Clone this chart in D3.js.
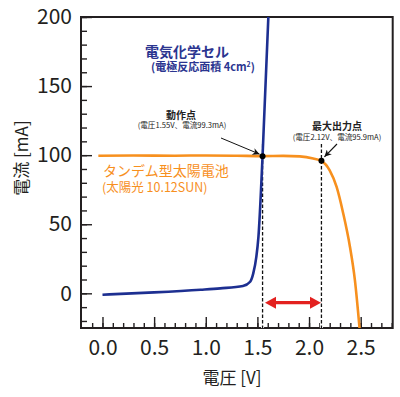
<!DOCTYPE html>
<html><head><meta charset="utf-8">
<script src="https://cdn.jsdelivr.net/npm/d3@7"></script>
<style>
html,body{margin:0;padding:0;background:#fff;}
svg text{font-family:"Noto Sans CJK JP","Noto Sans",sans-serif;}
</style></head>
<body>
<svg id="c" width="400" height="397"></svg>
<script>
// ---- data ----
const cellV = [0, 0.5, 0.95, 1.14, 1.36, 1.43, 1.46, 1.49, 1.51, 1.55, 1.606];
const cellI = [-1, 0.7, 2.6, 3.6, 5.3, 8.4, 14.4, 26.5, 40.9, 99.3, 200];
const solarV = [-0.04, 0.3, 0.7, 1.0, 1.3, 1.55, 1.75, 1.91, 2.04, 2.12, 2.2, 2.267, 2.331, 2.396, 2.444, 2.49];
const solarI = [99.6, 99.8, 99.6, 99.8, 99.6, 99.3, 99.5, 99.1, 97.6, 95.9, 89, 77, 57.8, 33.7, 9.6, -26];
const pointV = [1.55, 2.12];
const pointI = [99.3, 95.9];
const xMajor = [0, 0.5, 1.0, 1.5, 2.0, 2.5];
const yMajor = [0, 50, 100, 150, 200];
const xMinor = d3.range(-1, 29).map(d => d / 10);
const yMinor = d3.range(-2, 21).map(d => d * 10);

const svg = d3.select("#c");
const L = 81, R = 392.7, T = 17, B = 328;
const x = d3.scaleLinear().domain([-0.208, 2.81]).range([L, R]);
const y = d3.scaleLinear().domain([-25.1, 200]).range([B, T]);
const ink = "#231f20";

svg.append("clipPath").attr("id", "clip").append("rect")
  .attr("x", L).attr("y", T).attr("width", R - L).attr("height", B - T);

// axes
const gx = svg.append("g").attr("transform", `translate(0,${B})`);
gx.call(d3.axisBottom(x).tickValues(xMinor).tickSizeInner(-5).tickSizeOuter(0).tickFormat(""));
const gx2 = svg.append("g").attr("transform", `translate(0,${B})`);
gx2.call(d3.axisBottom(x).tickValues(xMajor).tickSizeInner(-11).tickSizeOuter(0).tickPadding(12).tickFormat(d3.format(".1f")));
const gy = svg.append("g").attr("transform", `translate(${L},0)`);
gy.call(d3.axisLeft(y).tickValues(yMinor).tickSizeInner(-6).tickSizeOuter(0).tickFormat(""));
const gy2 = svg.append("g").attr("transform", `translate(${L},0)`);
gy2.call(d3.axisLeft(y).tickValues(yMajor).tickSizeInner(-11).tickSizeOuter(0).tickPadding(9).tickFormat(d3.format("d")));
svg.selectAll(".domain").remove();
svg.selectAll(".tick line").attr("stroke", ink).attr("stroke-width", 1.4);
svg.selectAll(".tick text").attr("fill", ink).style("font-size", "21px");

// frame
svg.append("rect").attr("x", L).attr("y", T).attr("width", R - L).attr("height", B - T)
  .attr("fill", "none").attr("stroke", ink).attr("stroke-width", 2);

// axis titles
svg.append("text").attr("x", 232).attr("y", 384).attr("text-anchor", "middle")
  .attr("fill", ink).style("font-size", "17px").text("電圧 [V]");
svg.append("text").attr("transform", "translate(28,158) rotate(-90)").attr("text-anchor", "middle")
  .attr("fill", ink).style("font-size", "17px").text("電流 [mA]");

const plot = svg.append("g").attr("clip-path", "url(#clip)");

// dashed verticals
pointV.forEach(v => {
  plot.append("line").attr("x1", x(v)).attr("x2", x(v)).attr("y1", 144).attr("y2", B)
    .attr("stroke", "#fff").attr("stroke-width", 3);
  plot.append("line").attr("x1", x(v)).attr("x2", x(v)).attr("y1", 144).attr("y2", B)
    .attr("stroke", "#111").attr("stroke-width", 1.3).attr("stroke-dasharray", "3.5,2");
});

const line = d3.line().x(d => x(d[0])).y(d => y(d[1])).curve(d3.curveMonotoneX);
plot.append("path").datum(solarV.map((v, i) => [v, solarI[i]]))
  .attr("d", line).attr("fill", "none").attr("stroke", "#f7901e").attr("stroke-width", 2.6);
plot.append("path").datum(cellV.map((v, i) => [v, cellI[i]]))
  .attr("d", line).attr("fill", "none").attr("stroke", "#1d2f91").attr("stroke-width", 2.6);

// points
pointV.forEach((v, i) => {
  svg.append("circle").attr("cx", x(v)).attr("cy", y(pointI[i])).attr("r", 3).attr("fill", "#000");
});

// arrow marker
const defs = svg.append("defs");
defs.append("marker").attr("id", "ah").attr("viewBox", "0 0 10 10").attr("refX", 10).attr("refY", 5)
  .attr("markerWidth", 9).attr("markerHeight", 7).attr("markerUnits", "userSpaceOnUse").attr("orient", "auto")
  .append("path").attr("d", "M0,0 L10,5 L0,10 L3,5 Z").attr("fill", "#111");
svg.append("line").attr("x1", 221).attr("y1", 138).attr("x2", x(pointV[0]) - 3).attr("y2", y(pointI[0]) - 2)
  .attr("stroke", "#111").attr("stroke-width", 1).attr("marker-end", "url(#ah)");
svg.append("line").attr("x1", 337).attr("y1", 144).attr("x2", x(pointV[1]) + 3).attr("y2", y(pointI[1]) - 4)
  .attr("stroke", "#111").attr("stroke-width", 1.1).attr("marker-end", "url(#ah)");

// red double arrow
const ay = 302.7, ax1 = 265, ax2 = 321;
svg.append("line").attr("x1", ax1 + 8).attr("x2", ax2 - 8).attr("y1", ay).attr("y2", ay)
  .attr("stroke", "#e3211f").attr("stroke-width", 3.2);
svg.append("path").attr("d", `M${ax1},${ay} L${ax1 + 11},${ay - 6} L${ax1 + 11},${ay + 6} Z`).attr("fill", "#e3211f");
svg.append("path").attr("d", `M${ax2},${ay} L${ax2 - 11},${ay - 6} L${ax2 - 11},${ay + 6} Z`).attr("fill", "#e3211f");

// labels
const blue = "#2b3590", orange = "#f7901e";
svg.append("text").attr("x", 187).attr("y", 57).attr("text-anchor", "middle").attr("fill", blue)
  .style("font-size", "14px").style("font-weight", "bold").text("電気化学セル");
const t2 = svg.append("text").attr("x", 203).attr("y", 71).attr("text-anchor", "middle").attr("fill", blue)
  .style("font-size", "11px").style("font-weight", "bold");
t2.append("tspan").text("(電極反応面積 4cm");
t2.append("tspan").attr("dy", -4).style("font-size", "7px").text("2");
t2.append("tspan").attr("dy", 4).text(")");

svg.append("text").attr("x", 181).attr("y", 119).attr("text-anchor", "middle").attr("fill", "#222")
  .style("font-size", "10px").style("font-weight", "bold").text("動作点");
svg.append("text").attr("x", 182).attr("y", 128).attr("text-anchor", "middle").attr("fill", "#222")
  .style("font-size", "7.6px").text("(電圧1.55V、電流99.3mA)");
svg.append("text").attr("x", 337).attr("y", 130).attr("text-anchor", "middle").attr("fill", "#222")
  .style("font-size", "10px").style("font-weight", "bold").text("最大出力点");
svg.append("text").attr("x", 337).attr("y", 140).attr("text-anchor", "middle").attr("fill", "#222")
  .style("font-size", "7.6px").text("(電圧2.12V、電流95.9mA)");

svg.append("text").attr("x", 103).attr("y", 176).attr("fill", orange)
  .style("font-size", "14px").text("タンデム型太陽電池");
svg.append("text").attr("x", 102).attr("y", 192).attr("fill", orange)
  .style("font-size", "12.5px").text("(太陽光 10.12SUN)");
</script>
</body></html>
